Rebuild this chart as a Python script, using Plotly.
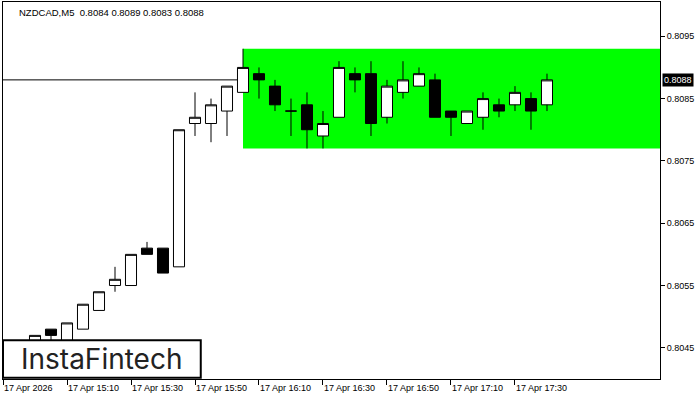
import plotly.graph_objects as go

times = ["15:00", "15:05", "15:10", "15:15", "15:20", "15:25", "15:30", "15:35", "15:40", "15:45",
         "15:50", "15:55", "16:00", "16:05", "16:10", "16:15", "16:20", "16:25", "16:30", "16:35",
         "16:40", "16:45", "16:50", "16:55", "17:00", "17:05", "17:10", "17:15", "17:20", "17:25",
         "17:30", "17:35", "17:40"]
opens = [0.8046, 0.8048, 0.8046, 0.8048, 0.8051, 0.8055, 0.8055, 0.8061, 0.8061, 0.8058,
         0.8081, 0.8081, 0.8083, 0.8086, 0.8089, 0.8087, 0.8083, 0.8084, 0.8079, 0.8082,
         0.8089, 0.8089, 0.8082, 0.8086, 0.8087, 0.8088, 0.8083, 0.8081, 0.8082, 0.8084,
         0.8084, 0.8085, 0.8084]
highs = [0.8047, 0.8048, 0.8049, 0.8052, 0.8054, 0.8058, 0.8060, 0.8062, 0.8061, 0.8080,
         0.8086, 0.8085, 0.8087, 0.8093, 0.8090, 0.8088, 0.8085, 0.8086, 0.8083, 0.8091,
         0.8090, 0.8091, 0.8088, 0.8091, 0.8090, 0.8089, 0.8083, 0.8083, 0.8086, 0.8085,
         0.8087, 0.8086, 0.8089]
lows = [0.8045, 0.8046, 0.8045, 0.8048, 0.8051, 0.8054, 0.8055, 0.8060, 0.8057, 0.8058,
        0.8079, 0.8078, 0.8079, 0.8086, 0.8085, 0.8083, 0.8079, 0.8077, 0.8077, 0.8082,
        0.8086, 0.8079, 0.8081, 0.8085, 0.8087, 0.8082, 0.8079, 0.8081, 0.8080, 0.8082,
        0.8083, 0.8080, 0.8083]
closes = [0.8047, 0.8047, 0.8049, 0.8052, 0.8054, 0.8056, 0.8060, 0.8060, 0.8057, 0.8080,
          0.8082, 0.8084, 0.8087, 0.8090, 0.8088, 0.8084, 0.8083, 0.8080, 0.8081, 0.8090,
          0.8088, 0.8081, 0.8087, 0.8088, 0.8089, 0.8082, 0.8082, 0.8083, 0.8085, 0.8083,
          0.8086, 0.8083, 0.8088]

day = "2026-04-17 "
x_times = [day + t for t in times]

tick_times = ["14:50", "15:10", "15:30", "15:50", "16:10", "16:30", "16:50", "17:10", "17:30"]
tick_labels = ["17 Apr 2026", "17 Apr 15:10", "17 Apr 15:30", "17 Apr 15:50", "17 Apr 16:10",
               "17 Apr 16:30", "17 Apr 16:50", "17 Apr 17:10", "17 Apr 17:30"]
y_ticks = [0.8045, 0.8055, 0.8065, 0.8075, 0.8085, 0.8095]

rect_start = "16:05"
rect_low, rect_high = 0.8077, 0.8093
current_price = 0.8088
title_text = "NZDCAD,M5  0.8084 0.8089 0.8083 0.8088"

font = "Liberation Sans"

fig = go.Figure()
fig.add_trace(go.Candlestick(
    x=x_times, open=opens, high=highs, low=lows, close=closes,
    increasing=dict(line=dict(color="black", width=1), fillcolor="white"),
    decreasing=dict(line=dict(color="black", width=1), fillcolor="black"),
    whiskerwidth=0, showlegend=False, hoverinfo="skip",
))

x_end = "2026-04-17 18:15:19"
fig.add_shape(type="rect", xref="x", yref="y", x0=day + rect_start, x1=x_end,
              y0=rect_low, y1=rect_high, fillcolor="#00ff00", line=dict(width=0), layer="below")
fig.add_shape(type="line", xref="paper", yref="y", x0=0, x1=1, y0=current_price, y1=current_price,
              line=dict(color="black", width=1), layer="below")

# logo box
fig.add_shape(type="rect", xref="paper", yref="paper", x0=0.0, x1=0.301, y0=0.003, y1=0.103,
              fillcolor="white", line=dict(color="black", width=2), layer="above")
fig.add_annotation(xref="paper", yref="paper", x=0.1505, y=0.053, text="InstaFintech",
                   showarrow=False, font=dict(family="Inter", size=28, color="#222222"),
                   xanchor="center", yanchor="middle")

fig.add_annotation(xref="paper", yref="paper", x=0.021, y=0.973, text=title_text, showarrow=False,
                   xanchor="left", yanchor="middle", font=dict(family=font, size=9.5, color="black"))

fig.add_annotation(xref="paper", yref="y", x=1, y=current_price, text=f"{current_price:.4f}",
                   showarrow=False, xanchor="left", yanchor="middle", xshift=2,
                   bgcolor="black", font=dict(family=font, size=9, color="white"), borderpad=1)

fig.update_layout(
    width=700, height=400,
    margin=dict(l=3, r=40, t=2, b=21),
    paper_bgcolor="white", plot_bgcolor="white",
    showlegend=False,
    boxgap=0.31, boxgroupgap=0.0,
    xaxis=dict(
        type="date", range=[day + "14:50", x_end],
        tickvals=[day + t for t in tick_times], ticktext=tick_labels,
        ticks="outside", ticklen=5, tickcolor="black",
        ticklabelposition="outside right",
        showgrid=False, zeroline=False,
        showline=True, linecolor="black", linewidth=1, mirror=True,
        rangeslider=dict(visible=False),
        tickfont=dict(family=font, size=9, color="black"),
    ),
    yaxis=dict(
        side="right", range=[0.80400, 0.81005],
        tickvals=y_ticks, tickformat=".4f",
        ticks="outside", ticklen=4, tickcolor="black",
        showgrid=False, zeroline=False,
        showline=True, linecolor="black", linewidth=1, mirror=True,
        tickfont=dict(family=font, size=9, color="black"),
    ),
)

fig.write_html("out.html", config={"displayModeBar": False},
               post_script="document.body.style.margin='0';document.body.style.padding='0';")
